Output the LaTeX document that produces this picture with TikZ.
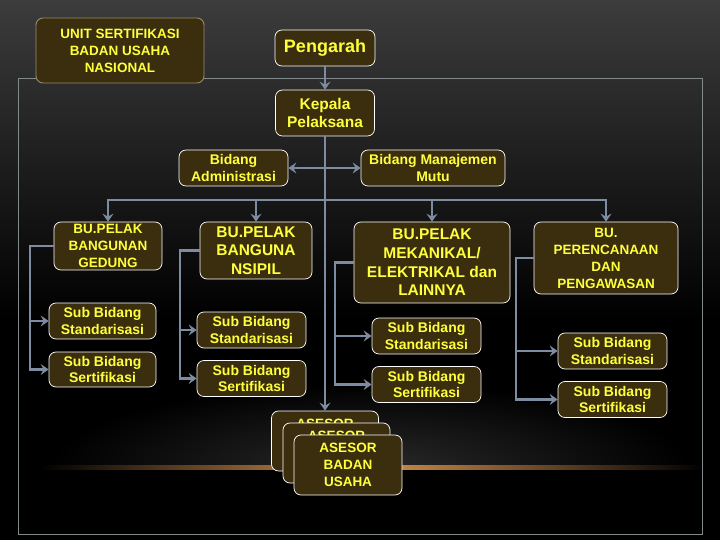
\documentclass[tikz,border=0pt]{standalone}
\usepackage{fontspec}
\setmainfont{Liberation Sans}
\usetikzlibrary{arrows.meta}
\definecolor{boxfill}{RGB}{58,46,14}
\definecolor{txtc}{RGB}{255,255,60}
\definecolor{connc}{RGB}{125,140,160}
\definecolor{framec}{RGB}{130,138,140}
\definecolor{topgray}{RGB}{60,60,60}
\definecolor{glowc}{RGB}{215,145,75}
\definecolor{unitborder}{RGB}{150,140,110}
\begin{document}
\begin{tikzpicture}[x=1pt,y=-1pt,
  box/.style={draw=white, line width=0.7pt, fill=boxfill, rounded corners=7pt,
    text=txtc, align=center, inner sep=0pt},
  fa/.style={font=\fontsize{13.5}{17}\selectfont\bfseries},
  fb/.style={font=\fontsize{14}{16.5}\selectfont\bfseries},
  fc/.style={font=\fontsize{15.5}{18.7}\selectfont\bfseries},
  conn/.style={draw=connc, line width=2.6pt},
  tip/.style={-{Stealth[length=8pt,width=11pt,inset=3pt]}},
  tipboth/.style={{Stealth[length=8pt,width=11pt,inset=3pt]}-{Stealth[length=8pt,width=11pt,inset=3pt]}}]
\useasboundingbox (0,0) rectangle (720,540);
% background
\fill[black] (0,0) rectangle (720,540);
\shade[top color=topgray, bottom color=black] (0,0) rectangle (720,320);
% horizon glow
\begin{scope}
  \clip (0,380) rectangle (720,468);
  \shade[inner color=gray!32!black, outer color=black] (370,468) ellipse [x radius=320, y radius=85];
\end{scope}
\shade[left color=black, right color=glowc] (40,465.5) rectangle (370,469);
\shade[left color=glowc, right color=black] (370,465.5) rectangle (705,469);
% frame
\draw[framec, line width=0.8pt] (18,78) rectangle (702,534);

% nodes
\node[box, draw=unitborder, line width=0.9pt, fa, minimum width=168pt, minimum height=65pt] (unit) at (120,50.5) {UNIT SERTIFIKASI\\BADAN USAHA\\NASIONAL};
\node[box, font=\fontsize{18}{21}\selectfont\bfseries, minimum width=100pt, minimum height=36pt] (peng) at (325,48) {Pengarah};
\node[box, font=\fontsize{15.5}{18.5}\selectfont\bfseries, minimum width=99pt, minimum height=46pt] (kep) at (325,113) {Kepala\\Pelaksana};
\node[box, fb, minimum width=109pt, minimum height=36pt] (adm) at (233.5,168) {Bidang\\Administrasi};
\node[box, fb, minimum width=144pt, minimum height=36pt] (man) at (433,168) {Bidang Manajemen\\Mutu};

\node[box, fa, minimum width=108pt, minimum height=48pt] (ged) at (108,246) {BU.PELAK\\BANGUNAN\\GEDUNG};
\node[box, fc, minimum width=112pt, minimum height=57pt] (nsi) at (256,250.5) {BU.PELAK\\BANGUNA\\NSIPIL};
\node[box, fc, minimum width=156pt, minimum height=81pt] (mek) at (432,262.5) {BU.PELAK\\MEKANIKAL/\\ELEKTRIKAL dan\\LAINNYA};
\node[box, fa, minimum width=144pt, minimum height=72pt] (per) at (606,258) {BU.\\PERENCANAAN\\DAN\\PENGAWASAN};

\node[box, fb, minimum width=107pt, minimum height=36pt] (s1a) at (102.5,321) {Sub Bidang\\Standarisasi};
\node[box, fb, minimum width=107pt, minimum height=35pt] (s1b) at (102.5,369.5) {Sub Bidang\\Sertifikasi};
\node[box, fb, minimum width=109pt, minimum height=36pt] (s2a) at (251.5,330) {Sub Bidang\\Standarisasi};
\node[box, fb, minimum width=109pt, minimum height=36pt] (s2b) at (251.5,378.5) {Sub Bidang\\Sertifikasi};
\node[box, fb, minimum width=109pt, minimum height=36pt] (s3a) at (426.5,336) {Sub Bidang\\Standarisasi};
\node[box, fb, minimum width=109pt, minimum height=36pt] (s3b) at (426.5,384.5) {Sub Bidang\\Sertifikasi};
\node[box, fb, minimum width=109pt, minimum height=36pt] (s4a) at (612.5,351) {Sub Bidang\\Standarisasi};
\node[box, fb, minimum width=109pt, minimum height=36pt] (s4b) at (612.5,399.5) {Sub Bidang\\Sertifikasi};

% stacked ASESOR boxes (the back ones show only their first line)
\node[box, minimum width=107pt, minimum height=60pt] (aseA) at (325,441) {};
\path (aseA.north) ++(0,13) node[fa, text=txtc] (aseAt) {ASESOR};
\node[box, minimum width=107pt, minimum height=60pt] (aseB) at (336.5,453) {};
\path (aseB.north) ++(0,13) node[fa, text=txtc] (aseBt) {ASESOR};
\node[box, fa, minimum width=108pt, minimum height=60pt] (aseC) at (348,465) {ASESOR\\BADAN\\USAHA};

% connectors
\coordinate (busy) at (0,200);
\coordinate (c1) at (30,0);
\coordinate (c2) at (180,0);
\coordinate (c3) at (335,0);
\coordinate (c4) at (516,0);
\draw[conn, tip] (peng) -- (kep);
\draw[conn, tip] (kep.south) -- (aseA.north);
\draw[conn, tipboth] (adm.east) -- (man.west);
\draw[conn, tipboth] (ged.north) -- (ged.north |- busy) -- (per.north |- busy) -- (per.north);
\draw[conn, tip] (nsi.north |- busy) -- (nsi.north);
\draw[conn, tip] (mek.north |- busy) -- (mek.north);

\draw[conn, tip] (ged.west) -| (c1 |- s1b.west) -- (s1b.west);
\draw[conn, tip] (c1 |- s1a.west) -- (s1a.west);
\draw[conn, tip] (nsi.west) -| (c2 |- s2b.west) -- (s2b.west);
\draw[conn, tip] (c2 |- s2a.west) -- (s2a.west);
\draw[conn, tip] (mek.west) -| (c3 |- s3b.west) -- (s3b.west);
\draw[conn, tip] (c3 |- s3a.west) -- (s3a.west);
\draw[conn, tip] (per.west) -| (c4 |- s4b.west) -- (s4b.west);
\draw[conn, tip] (c4 |- s4a.west) -- (s4a.west);
\end{tikzpicture}
\end{document}
